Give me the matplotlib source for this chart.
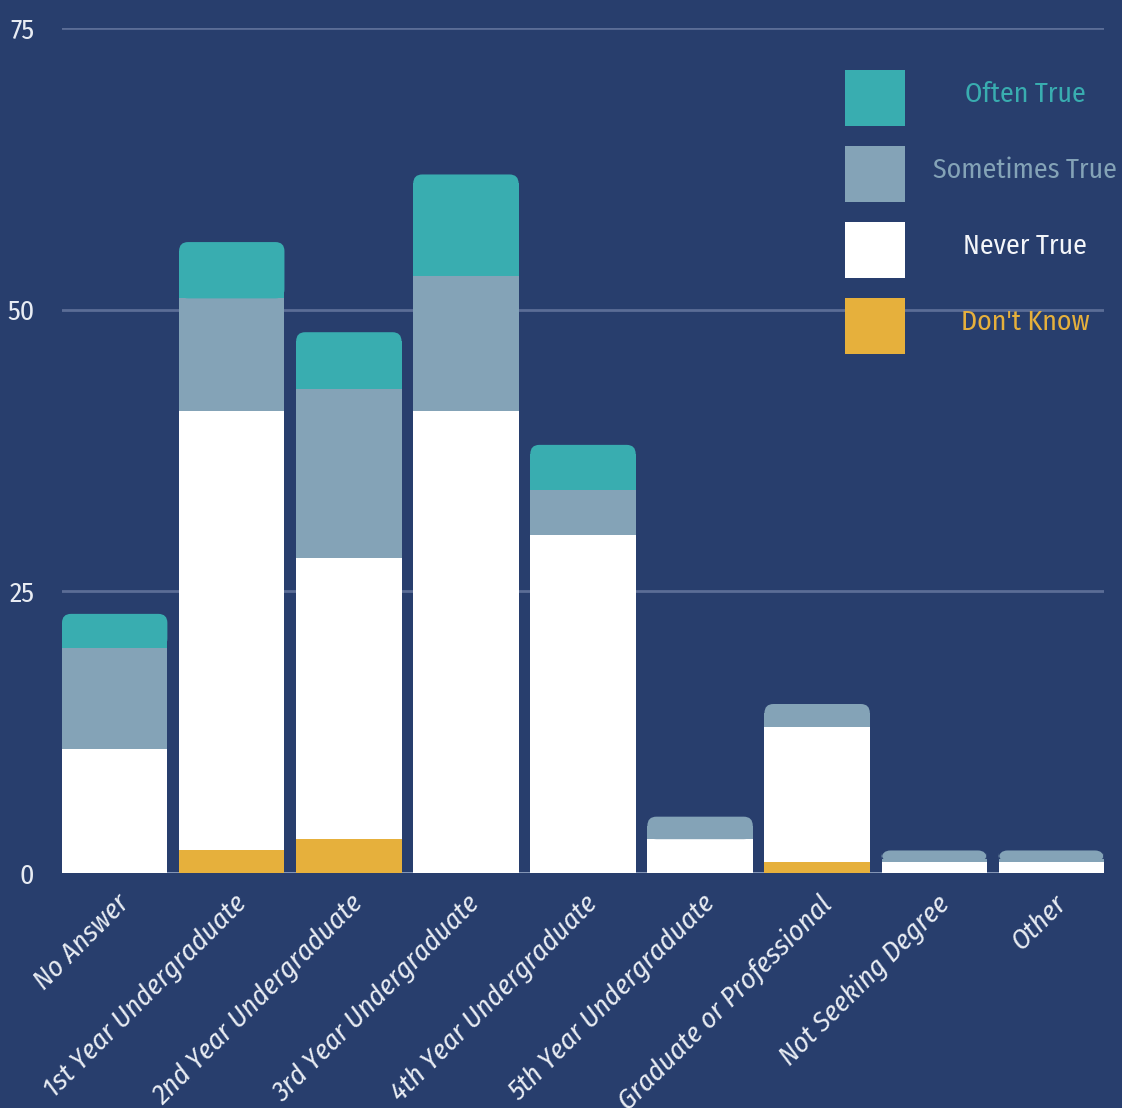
import matplotlib
matplotlib.use("Agg")
import matplotlib.pyplot as plt
import matplotlib.transforms as mtransforms
from matplotlib.patches import FancyBboxPatch, Rectangle
import numpy as np

# survey counts by class standing
categories = ["No Answer", "1st Year Undergraduate", "2nd Year Undergraduate",
              "3rd Year Undergraduate", "4th Year Undergraduate",
              "5th Year Undergraduate", "Graduate or Professional",
              "Not Seeking Degree", "Other"]
dont_know = [0, 2, 3, 0, 0, 0, 1, 0, 0]
never_true = [11, 39, 25, 41, 30, 3, 12, 1, 1]
sometimes_true = [9, 10, 15, 12, 4, 2, 2, 1, 1]
often_true = [3, 5, 5, 9, 4, 0, 0, 0, 0]

series_names = ["Don't Know", "Never True", "Sometimes True", "Often True"]
series_vals = [dont_know, never_true, sometimes_true, often_true]
colors = ["#e6b03c", "#ffffff", "#84a3b7", "#39adb0"]
text_colors = ["#e6b03c", "#f4f6fa", "#84a3b7", "#39adb0"]

bg = "#283e6d"
grid_c = "#5b6d96"
label_c = "#e8ecf3"
FONT = ["Fira Sans Condensed", "DejaVu Sans"]

W, H = 1122, 1108
fig = plt.figure(figsize=(W / 100, H / 100), dpi=100, facecolor=bg)
ax = fig.add_axes([62 / W, (H - 873) / H, (1104 - 62) / W, (873 - 28) / H])
ax.set_facecolor(bg)

bar_w = 0.9
x = np.arange(len(categories))
ax.set_xlim(-bar_w / 2, len(categories) - 1 + bar_w / 2)
ax.set_ylim(0, 75)

for s in ax.spines.values():
    s.set_visible(False)
for yv in [25, 50, 75]:
    ax.axhline(yv, color=grid_c, lw=2, zorder=0)
ax.axhline(0, color="#8fa0c0", lw=2, zorder=0)

# pixel size of a data unit, for rounding the bar tops
fig.canvas.draw()
p0 = ax.transData.transform((0, 0))
p1 = ax.transData.transform((1, 1))
px_x = p1[0] - p0[0]
px_y = p1[1] - p0[1]
r_px = 9
r_x = r_px / px_x
r_y = r_px / px_y

vals = np.array(series_vals, dtype=float)
for i in range(len(categories)):
    bottom = 0.0
    nz = [k for k in range(len(series_vals)) if vals[k, i] > 0]
    top_k = nz[-1]
    for k in nz:
        h = vals[k, i]
        left = x[i] - bar_w / 2
        if k == top_k:
            ax.add_patch(FancyBboxPatch((left, bottom), bar_w, h,
                                        boxstyle=f"round,pad=0,rounding_size={r_x}",
                                        mutation_aspect=px_x / px_y,
                                        fc=colors[k], ec="none", zorder=2))
            ax.add_patch(Rectangle((left, bottom), bar_w, h - r_y if h > r_y else h / 2,
                                   fc=colors[k], ec="none", zorder=2))
        else:
            ax.add_patch(Rectangle((left, bottom), bar_w, h,
                                   fc=colors[k], ec="none", zorder=2))
        bottom += h

ax.set_yticks([0, 25, 50, 75])
ax.set_yticklabels(["0", "25", "50", "75"], family=FONT, fontsize=20, color=label_c)
ax.set_xticks(x)
ax.set_xticklabels(categories, rotation=45, ha="right", rotation_mode="anchor",
                   family=FONT, fontsize=20.5, color=label_c, style="italic")
ax.tick_params(axis="both", length=0)
ax.tick_params(axis="y", pad=20)
ax.tick_params(axis="x", pad=12)
shift = mtransforms.ScaledTranslation(0.01, 0, fig.dpi_scale_trans)
for t in ax.get_xticklabels():
    t.set_transform(t.get_transform() + shift)

# legend boxes, top to bottom
legend_tops = [70, 146, 222, 298]
for j, k in enumerate([3, 2, 1, 0]):
    y0 = legend_tops[j]
    fig.add_artist(Rectangle((845 / W, (H - y0 - 56) / H), 60 / W, 56 / H,
                             transform=fig.transFigure, fc=colors[k], ec="none"))
    fig.text(1025 / W, (H - y0 - 24) / H, series_names[k], color=text_colors[k],
             fontsize=20, ha="center", va="center", family=FONT)

fig.savefig("out.png", dpi=100, facecolor=bg)
